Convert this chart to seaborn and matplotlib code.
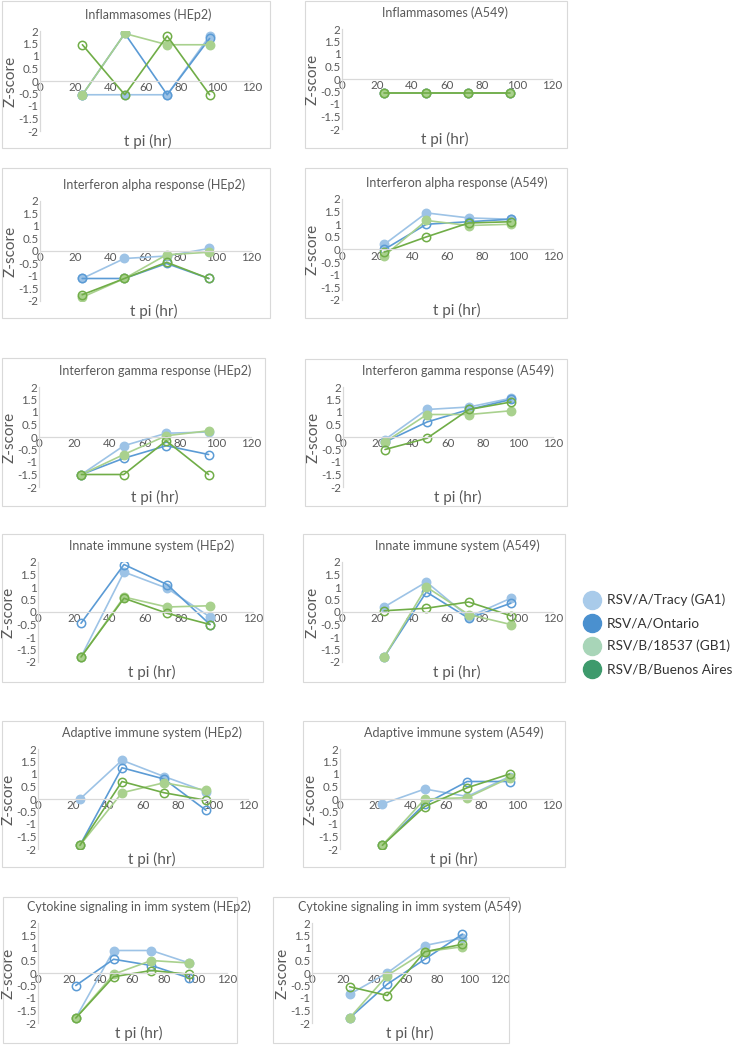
"""
Z-score profiles of immune pathways over time, HEp2 vs A549 cells.
"""

import matplotlib.pyplot as plt
import seaborn as sns
from matplotlib.lines import Line2D
from matplotlib.patches import Rectangle

W, H = 739, 1045

HOURS = [24, 48, 72, 96]
STRAINS = ["RSV/A/Tracy (GA1)", "RSV/A/Ontario", "RSV/B/18537 (GB1)", "RSV/B/Buenos Aires"]
LINE_COLORS = ["#9DC3E6", "#5B9BD5", "#A9D18E", "#70AD47"]
LEGEND_COLORS = ["#A9CBEA", "#4A90CF", "#A8D5B8", "#3E9A6C"]
FILLED = [True, False, True, False]

# one row per strain, columns = 24, 48, 72, 96 h
INFLAM_HEP2 = [[-0.55, -0.55, -0.55, 1.8], [-0.55, 1.9, -0.55, 1.7],
               [-0.55, 1.9, 1.45, 1.45], [1.45, -0.55, 1.8, -0.55]]
INFLAM_A549 = [[-0.55, -0.55, -0.55, -0.55], [-0.55, -0.55, -0.55, -0.55],
               [-0.55, -0.55, -0.55, -0.55], [-0.55, -0.55, -0.55, -0.55]]
IFNA_HEP2 = [[-1.1, -0.3, -0.2, 0.1], [-1.1, -1.1, -0.5, -1.1],
             [-1.85, -1.1, -0.15, -0.05], [-1.75, -1.1, -0.45, -1.1]]
IFNA_A549 = [[0.2, 1.45, 1.25, 1.2], [0.0, 1.0, 1.1, 1.2],
             [-0.25, 1.15, 0.95, 1.0], [-0.1, 0.5, 1.05, 1.1]]
IFNG_HEP2 = [[-1.5, -0.35, 0.15, 0.2], [-1.5, -0.85, -0.35, -0.7],
             [-1.5, -0.7, 0.05, 0.25], [-1.5, -1.5, -0.15, -1.5]]
IFNG_A549 = [[-0.1, 1.1, 1.2, 1.55], [-0.2, 0.6, 1.1, 1.5],
             [-0.2, 0.9, 0.9, 1.05], [-0.5, -0.05, 1.1, 1.4]]
INNATE_HEP2 = [[-1.8, 1.6, 0.95, -0.2], [-0.45, 1.9, 1.1, -0.5],
               [-1.8, 0.6, 0.2, 0.25], [-1.8, 0.55, -0.05, -0.5]]
INNATE_A549 = [[0.2, 1.2, -0.2, 0.55], [-1.8, 0.8, -0.25, 0.35],
               [-1.8, 1.0, -0.1, -0.5], [0.05, 0.15, 0.4, -0.15]]
ADAPT_HEP2 = [[0.0, 1.55, 0.9, 0.3], [-1.85, 1.25, 0.8, -0.45],
              [-1.85, 0.25, 0.65, 0.35], [-1.85, 0.7, 0.25, -0.05]]
ADAPT_A549 = [[-0.2, 0.4, 0.1, 0.9], [-1.85, -0.2, 0.7, 0.7],
              [-1.85, 0.0, 0.05, 0.85], [-1.85, -0.3, 0.45, 1.0]]
CYTO_HEP2 = [[-1.8, 0.9, 0.9, 0.4], [-0.5, 0.55, 0.3, -0.2],
             [-1.8, -0.05, 0.5, 0.4], [-1.8, -0.15, 0.1, -0.05]]
CYTO_A549 = [[-0.85, 0.0, 1.1, 1.4], [-1.8, -0.45, 0.55, 1.55],
              [-1.8, -0.1, 0.85, 1.05], [-0.55, -0.9, 0.85, 1.15]]

# title, data, plot area (x0, x1, ytop, ybot), frame (x0, x1, ytop, ybot), title centre x
PANELS = [
    ("Inflammasomes (HEp2)", INFLAM_HEP2, (40, 252, 31, 131), (2, 270, 1, 148), 148),
    ("Inflammasomes (A549)", INFLAM_A549, (342, 552, 29, 129), (305, 567, 1, 148), 445),
    ("Interferon alpha response (HEp2)", IFNA_HEP2, (40, 251, 201, 301), (2, 270, 168, 318), 154),
    ("Interferon alpha response (A549)", IFNA_A549, (342, 553, 199, 300), (305, 567, 168, 318), 457),
    ("Interferon gamma response (HEp2)", IFNG_HEP2, (39, 251, 387, 487), (2, 265, 358, 506), 155),
    ("Interferon gamma response (A549)", IFNG_A549, (343, 553, 387, 487), (305, 567, 359, 506), 458),
    ("Innate immune system (HEp2)", INNATE_HEP2, (38, 253, 562, 662), (2, 263, 534, 682), 152),
    ("Innate immune system (A549)", INNATE_A549, (342, 553, 562, 662), (303, 565, 534, 682), 457),
    ("Adaptive immune system (HEp2)", ADAPT_HEP2, (38, 248, 749, 849), (2, 263, 721, 867), 152),
    ("Adaptive immune system (A549)", ADAPT_A549, (340, 552, 749, 849), (303, 565, 721, 867), 454),
    ("Cytokine signaling in imm system (HEp2)", CYTO_HEP2, (38, 227, 923, 1023), (3, 237, 897, 1043), 139),
    ("Cytokine signaling in imm system (A549)", CYTO_A549, (312, 500, 923, 1023), (273, 509, 897, 1043), 410),
]

TEXT = "#595959"
GRID = "#D9D9D9"

sns.set_style("white")
plt.rcParams["font.family"] = ["Lato", "DejaVu Sans"]

fig = plt.figure(figsize=(W / 100, H / 100), dpi=100)


def fx(px):
    return px / W


def fy(py):
    return 1 - py / H


for titulo, dados, area, moldura, tx in PANELS:
    bx0, bx1, bt, bb = moldura
    fig.add_artist(Rectangle((fx(bx0), fy(bb)), fx(bx1 - bx0), (bb - bt) / H,
                             transform=fig.transFigure, fill=False,
                             edgecolor=GRID, linewidth=0.8))

    x0, x1, yt, yb = area
    ax = fig.add_axes([fx(x0), fy(yb), fx(x1 - x0), (yb - yt) / H])
    ax.patch.set_alpha(0)

    for serie, cor, cheio in zip(dados, LINE_COLORS, FILLED):
        sns.lineplot(x=HOURS, y=serie, ax=ax, color=cor, linewidth=1.2,
                     marker="o", markersize=6, markeredgewidth=1.1,
                     markerfacecolor=cor if cheio else "none",
                     markeredgecolor=cor, legend=False)

    ax.set_xlim(0, 120)
    ax.set_ylim(-2, 2)
    ax.set_xticks(range(0, 121, 20))
    yt_vals = [2, 1.5, 1, 0.5, 0, -0.5, -1, -1.5, -2]
    ax.set_yticks(yt_vals)
    ax.set_yticklabels([f"{v:g}" for v in yt_vals])
    ax.spines["top"].set_visible(False)
    ax.spines["right"].set_visible(False)
    ax.spines["bottom"].set_position(("data", 0))
    for s in ("left", "bottom"):
        ax.spines[s].set_color(GRID)
        ax.spines[s].set_linewidth(0.9)
    ax.tick_params(axis="both", length=0, labelsize=8.3, labelcolor=TEXT, pad=1)
    ax.set_xlabel("")
    ax.set_ylabel("")

    # rótulos fixos em pixels, para que os painéis estreitos não se sobreponham
    fig.text(fx(x0 - 29), fy((yt + yb) / 2), "Z-score", rotation=90,
             ha="center", va="center", fontsize=11, color=TEXT)
    fig.text(fx(tx), fy(yb + 3), "t pi (hr)", ha="center", va="top",
             fontsize=11, color=TEXT)
    fig.text(fx(tx), fy(yt - 16), titulo, ha="center", va="center",
             fontsize=9, color=TEXT)

# legenda manual
for i, (nome, cor) in enumerate(zip(STRAINS, LEGEND_COLORS)):
    yy = 600 + i * 23
    fig.add_artist(Line2D([fx(592)], [fy(yy)], transform=fig.transFigure,
                          marker="o", markersize=13, color=cor, linestyle="none"))
    fig.text(fx(607), fy(yy), nome, ha="left", va="center",
             fontsize=9.8, color="#333333")

fig.savefig("out.png", dpi=100)
plt.close(fig)
